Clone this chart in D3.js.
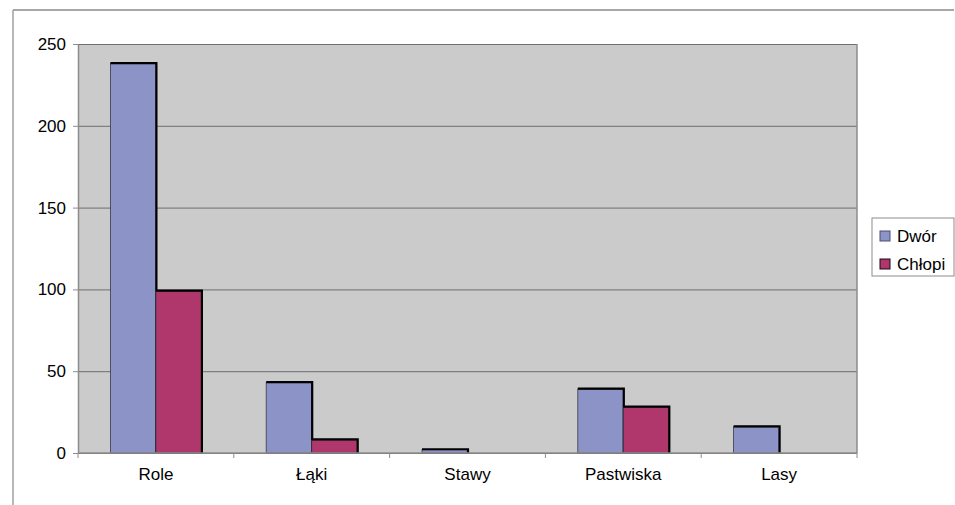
<!DOCTYPE html>
<html>
<head>
<meta charset="utf-8">
<script src="https://cdn.jsdelivr.net/npm/d3@7/dist/d3.min.js"></script>
<style>
  html, body { margin: 0; padding: 0; background: #ffffff; }
  svg { display: block; font-family: "Liberation Sans", Arial, sans-serif; }
</style>
</head>
<body>
<svg id="chart" width="955" height="505"></svg>
<script>
// Land use by category: manor (Dwór) vs peasants (Chłopi)
const categories = ["Role", "Łąki", "Stawy", "Pastwiska", "Lasy"];
const seriesNames = ["Dwór", "Chłopi"];
const dworValues = [238, 43, 2, 39, 16];
const chlopiValues = [99, 8, 0, 28, 0];
const yTicks = [0, 50, 100, 150, 200, 250];
const seriesColors = ["#8c93c6", "#b0376b"];

const svg = d3.select("#chart");
const W = 955, H = 505;
const plot = { left: 78, right: 857, top: 44, bottom: 453 };

// outer chart frame (top and left edges)
svg.append("line").attr("x1", 13).attr("y1", 10).attr("x2", 954).attr("y2", 10)
  .attr("stroke", "#8a8a8a").attr("stroke-width", 1.5);
svg.append("line").attr("x1", 13).attr("y1", 10).attr("x2", 13).attr("y2", H)
  .attr("stroke", "#a0a0a0").attr("stroke-width", 1.5);

const x0 = d3.scaleBand().domain(categories).range([plot.left, plot.right]).padding(0);
const x1 = d3.scaleBand().domain(seriesNames).range([0, x0.bandwidth()])
  .paddingInner(0).paddingOuter(0.712);
const y = d3.scaleLinear().domain([0, 250]).range([plot.bottom, plot.top]);

// plot background
svg.append("rect")
  .attr("x", plot.left).attr("y", plot.top)
  .attr("width", plot.right - plot.left).attr("height", plot.bottom - plot.top)
  .attr("fill", "#cbcbcb");

// horizontal gridlines
svg.append("g")
  .attr("transform", `translate(${plot.left},0)`)
  .call(d3.axisLeft(y).tickValues(yTicks).tickSize(-(plot.right - plot.left)).tickFormat(""))
  .call(g => g.select(".domain").remove())
  .call(g => g.selectAll("line").attr("stroke", "#6e6e6e").attr("stroke-width", 1));

// right border of the plot
svg.append("line").attr("x1", plot.right).attr("x2", plot.right)
  .attr("y1", plot.top).attr("y2", plot.bottom)
  .attr("stroke", "#8c8c8c").attr("stroke-width", 1.5);

// bars
const rows = categories.map((c, i) => ({ cat: c, vals: [dworValues[i], chlopiValues[i]] }));
const groups = svg.append("g").selectAll("g").data(rows).join("g")
  .attr("transform", d => `translate(${x0(d.cat)},0)`);

groups.each(function(d) {
  const g = d3.select(this);
  d.vals.forEach((v, si) => {
    if (v <= 0) return;
    const bx = x1(seriesNames[si]);
    const bw = x1.bandwidth();
    const by = y(v);
    const bh = plot.bottom - by;
    g.append("rect")
      .attr("x", bx).attr("y", by).attr("width", bw).attr("height", bh)
      .attr("fill", seriesColors[si])
      .attr("stroke", "#3a3a4a").attr("stroke-width", 0.8);
    // dark edge along top and right
    g.append("path")
      .attr("d", `M${bx},${by - 0.5} H${bx + bw + 0.5} V${plot.bottom}`)
      .attr("fill", "none").attr("stroke", "#000").attr("stroke-width", 2.2);
  });
});

// y axis
const yAxis = svg.append("g")
  .attr("transform", `translate(${plot.left},0)`)
  .call(d3.axisLeft(y).tickValues(yTicks).tickSize(5).tickPadding(7).tickSizeOuter(0));
yAxis.select(".domain").attr("stroke", "#8c8c8c").attr("stroke-width", 1.5);
yAxis.selectAll(".tick line").attr("stroke", "#8c8c8c");
yAxis.selectAll("text").attr("fill", "#000").attr("font-size", 17)
  .attr("font-family", "'Liberation Sans', Arial, sans-serif");

// x axis baseline and boundary ticks
svg.append("line").attr("x1", plot.left).attr("x2", plot.right)
  .attr("y1", plot.bottom).attr("y2", plot.bottom)
  .attr("stroke", "#8c8c8c").attr("stroke-width", 1.5);
const boundaries = categories.map(c => x0(c)).concat([plot.right]);
svg.append("g").selectAll("line").data(boundaries).join("line")
  .attr("x1", d => d).attr("x2", d => d)
  .attr("y1", plot.bottom).attr("y2", plot.bottom + 5)
  .attr("stroke", "#8c8c8c");

const xAxis = svg.append("g")
  .attr("transform", `translate(0,${plot.bottom})`)
  .call(d3.axisBottom(x0).tickSize(0).tickPadding(15));
xAxis.select(".domain").remove();
xAxis.selectAll("text").attr("fill", "#000").attr("font-size", 17)
  .attr("font-family", "'Liberation Sans', Arial, sans-serif");

// legend
const legend = svg.append("g");
legend.append("rect")
  .attr("x", 872).attr("y", 218).attr("width", 82).attr("height", 58)
  .attr("fill", "#ffffff").attr("stroke", "#8c8c8c").attr("stroke-width", 1);
seriesNames.forEach((name, i) => {
  const ly = 231 + i * 28;
  legend.append("rect")
    .attr("x", 880).attr("y", ly).attr("width", 10).attr("height", 10)
    .attr("fill", seriesColors[i]).attr("stroke", i === 0 ? "#4a4f70" : "#1a0a12").attr("stroke-width", 1);
  legend.append("text")
    .attr("x", 897).attr("y", ly + 10.5)
    .attr("font-size", 17).attr("fill", "#000")
    .text(name);
});
</script>
</body>
</html>
